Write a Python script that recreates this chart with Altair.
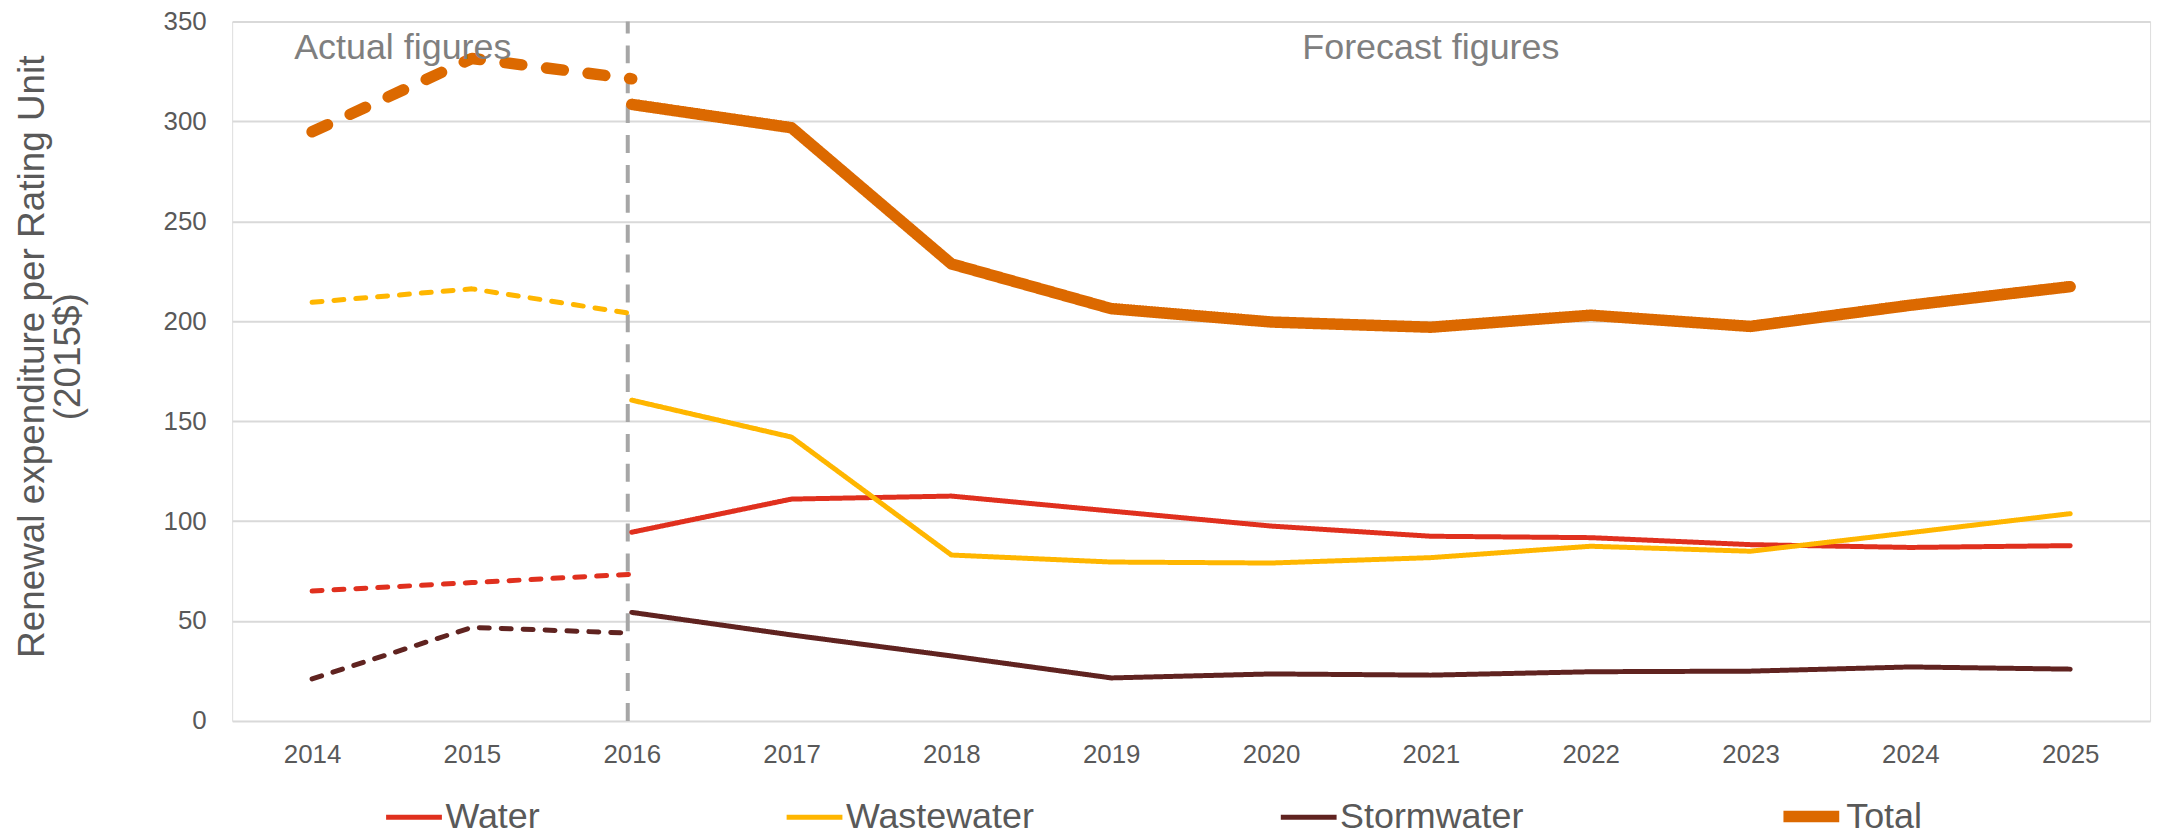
import altair as alt
import pandas as pd

FONT = "Liberation Sans"

years = list(range(2014, 2026))
actual_years = [2014, 2015, 2016]
forecast_years = list(range(2016, 2026))

series_names = ["Water", "Wastewater", "Stormwater", "Total"]
series_colors = ["#E0301E", "#FFB600", "#602320", "#DC6900"]
series_widths = [5, 5, 5, 11.5]

water_actual = [65, 69.2, 73.4]
wastewater_actual = [209.5, 216.2, 203.8]
stormwater_actual = [21, 46.8, 43.9]
total_actual = [294.8, 331.5, 321.3]

water_forecast = [94.4, 111, 112.5, 105, 97.5, 92.4, 91.7, 88.2, 86.8, 87.7]
wastewater_forecast = [160.5, 142, 83, 79.5, 79, 81.7, 87.4, 84.9, 94.2, 103.7]
stormwater_forecast = [54.3, 43, 32.5, 21.5, 23.5, 22.9, 24.6, 24.9, 27, 25.9]
total_forecast = [308.5, 296.8, 228.7, 206.3, 199.6, 197, 203, 197.4, 208, 217.3]

y_ticks = [0, 50, 100, 150, 200, 250, 300, 350]
y_title = ["Renewal expenditure per Rating Unit", "(2015$)"]

divider_year = [2016]
divider_lo = [0]
divider_hi = [350]

note_text = ["Actual figures", "Forecast figures"]
note_year = [2014, 2021]
note_value = [331.3, 331.3]

rows = []
for name, act, fc in [
    ("Water", water_actual, water_forecast),
    ("Wastewater", wastewater_actual, wastewater_forecast),
    ("Stormwater", stormwater_actual, stormwater_forecast),
    ("Total", total_actual, total_forecast),
]:
    dash_kind = "thick_dash" if name == "Total" else "thin_dash"
    for y, v in zip(actual_years, act):
        rows.append({"year": y, "value": v, "series": name, "dash": dash_kind, "key": name + " actual"})
    for y, v in zip(forecast_years, fc):
        rows.append({"year": y, "value": v, "series": name, "dash": "solid", "key": name + " forecast"})
df = pd.DataFrame(rows)

legend = alt.Legend(
    orient="none", legendX=152, legendY=764, direction="horizontal", title=None,
    columnPadding=237, labelOffset=1, symbolSize=3136, labelFontSize=36, labelLimit=500,
    labelColor="#595959", labelFont=FONT, padding=0, symbolType="stroke",
)

x_scale = alt.Scale(domain=[2013.5, 2025.5], nice=False, zero=False)

x_enc = alt.X("year:Q", scale=x_scale,
              axis=alt.Axis(title=None, domain=False, ticks=False, grid=False, values=years,
                            format="d", labelAngle=0, labelFontSize=26, labelColor="#595959",
                            labelFont=FONT, labelPadding=21, labelFlush=False))

lines = alt.Chart(df).mark_line(strokeCap="round", strokeJoin="round").encode(
    x=x_enc,
    y=alt.Y("value:Q", scale=alt.Scale(domain=[0, 350], nice=False),
            axis=alt.Axis(title=y_title, values=y_ticks, domain=False, ticks=False, tickSize=0,
                          grid=True, gridColor="#D9D9D9", gridWidth=2,
                          labelFontSize=26, labelColor="#595959", labelFont=FONT, labelPadding=26,
                          titleFontSize=37, titleFontWeight="normal", titleColor="#595959",
                          titleFont=FONT, titleAngle=270, titleBaseline="top", titleAlign="center",
                          titleX=-218, titleY=336, titleLineHeight=36)),
    color=alt.Color("series:N", sort=series_names,
                    scale=alt.Scale(type="ordinal", domain=series_names, range=series_colors), legend=legend),
    strokeWidth=alt.StrokeWidth("series:N", sort=series_names,
                                scale=alt.Scale(type="ordinal", domain=series_names, range=series_widths),
                                legend=legend),
    strokeDash=alt.StrokeDash("dash:N", scale=alt.Scale(domain=["solid", "thin_dash", "thick_dash"],
                                                         range=[[1, 0], [10, 12], [17, 25]]), legend=None),
    detail="key:N",
)

div_df = pd.DataFrame({"year": divider_year, "value": divider_lo, "value2": divider_hi})
rule = alt.Chart(div_df).mark_rule(color="#A6A6A6", strokeWidth=4, strokeDash=[18, 12], xOffset=-4).encode(
    x=alt.X("year:Q"), y=alt.Y("value:Q"), y2="value2:Q"
)

notes = pd.DataFrame({"year": note_year, "value": note_value, "text": note_text})
note_actual = alt.Chart(notes.iloc[[0]]).mark_text(
    align="left", baseline="alphabetic", dx=-18, fontSize=36, font=FONT, color="#7F7F7F"
).encode(x=alt.X("year:Q"), y=alt.Y("value:Q"), text="text:N")
note_fc = alt.Chart(notes.iloc[[1]]).mark_text(
    align="center", baseline="alphabetic", fontSize=36, font=FONT, color="#7F7F7F"
).encode(x=alt.X("year:Q"), y=alt.Y("value:Q"), text="text:N")

chart = alt.layer(rule, lines, note_actual, note_fc).properties(
    width=1925, height=702,
    autosize=alt.AutoSizeParams(type="none"),
    padding={"left": 225, "top": 12, "right": 25, "bottom": 114},
).configure_view(stroke=None).configure(background="white")

chart.save("out.html", embed_options={"renderer": "svg", "actions": False})
